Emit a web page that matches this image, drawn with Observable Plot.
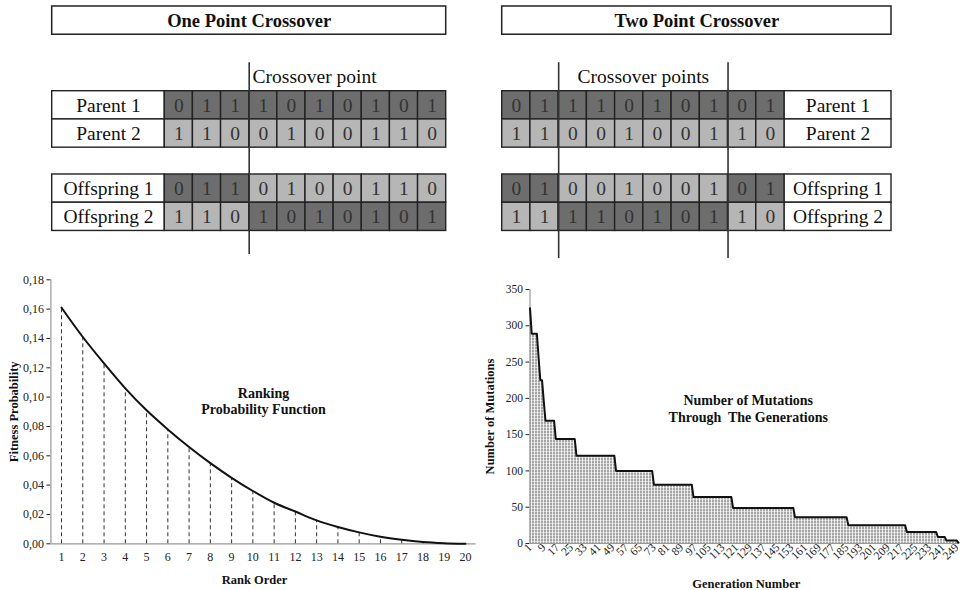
<!DOCTYPE html>
<html>
<head>
<meta charset="utf-8">
<script src="https://cdn.jsdelivr.net/npm/d3@7"></script>
<script src="https://cdn.jsdelivr.net/npm/@observablehq/plot@0.6"></script>
<style>
  html, body { margin: 0; padding: 0; background: #fff; }
  #wrap { position: relative; width: 961px; height: 590px; overflow: hidden; background: #fff; }
  #wrap > svg { position: absolute; }
</style>
</head>
<body>
<div id="wrap"></div>
<script>
// ---------- Crossover diagrams ----------
const rowNames = ["Parent 1", "Parent 2", "Offspring 1", "Offspring 2"];

const oneTitle = "One Point Crossover";
const oneBits  = ["0111010101", "1100100110", "0110100110", "1101010101"];
const oneShade = ["DDDDDDDDDD", "LLLLLLLLLL", "DDDLLLLLLL", "LLLDDDDDDD"];
const oneCuts  = [3];
const oneCutLabel = "Crossover point";

const twoTitle = "Two Point Crossover";
const twoBits  = ["0111010101", "1100100110", "0100100101", "1111010110"];
const twoShade = ["DDDDDDDDDD", "LLLLLLLLLL", "DDLLLLLLDD", "LLDDDDDDLL"];
const twoCuts  = [2, 8];
const twoCutLabel = "Crossover points";

// ---------- Ranking probability function ----------
const ranks = [1, 2, 3, 4, 5, 6, 7, 8, 9, 10, 11, 12, 13, 14, 15, 16, 17, 18, 19, 20];
const fitness = [0.161, 0.141, 0.123, 0.106, 0.091, 0.078, 0.066, 0.055, 0.045, 0.036,
                 0.028, 0.022, 0.016, 0.0115, 0.0078, 0.0048, 0.0027, 0.0012, 0.0004, 0];
const fitnessTicks = [0, 0.02, 0.04, 0.06, 0.08, 0.10, 0.12, 0.14, 0.16, 0.18];

// ---------- Mutations through generations ----------
const stepStart = [1, 2, 6, 7, 9, 10, 16, 28, 51, 73, 96, 119, 155, 186, 220, 238, 243, 250];
const stepValue = [324, 289, 256, 225, 196, 169, 144, 121, 100, 81, 64, 49, 36, 25, 16, 9, 4, 1];
const lastGeneration = 250;
const genTicks = [1, 9, 17, 25, 33, 41, 49, 57, 65, 73, 81, 89, 97, 105, 113, 121, 129, 137, 145,
                  153, 161, 169, 177, 185, 193, 201, 209, 217, 225, 233, 241, 249];
const mutationTicks = [0, 50, 100, 150, 200, 250, 300, 350];

const SERIF = "'Liberation Serif', 'Times New Roman', serif";
const DARK = "#6d6d6d", LIGHT = "#b6b6b6", INK = "#222";

const wrap = document.getElementById("wrap");
function place(svg, left, top) {
  svg.style.left = left + "px";
  svg.style.top = top + "px";
  wrap.appendChild(svg);
}

function diagram(cfg) {
  const rowGap = 0.95;
  const pos = r => r + (r >= 2 ? rowGap : 0);
  const cells = [];
  cfg.bits.forEach((row, r) => [...row].forEach((b, c) => cells.push({r, c, b, s: cfg.shade[r][c]})));
  const rows = rowNames.map((name, r) => ({r, name}));
  return Plot.plot({
    width: cfg.width, height: 262, margin: 0,
    style: {fontFamily: SERIF, background: "white", color: INK},
    x: {domain: cfg.xDomain, range: cfg.xRange, axis: null},
    y: {domain: [-3, 0], range: [6, 90.7], axis: null},
    color: {type: "identity"},
    marks: [
      Plot.rect([cfg.title], {x1: () => cfg.boxX1, x2: () => cfg.boxX2, y1: () => -3, y2: () => -2,
        fill: "white", stroke: INK, strokeWidth: 1.5}),
      Plot.text([cfg.title], {x: () => (cfg.boxX1 + cfg.boxX2) / 2, y: () => -2.5, text: d => d,
        fontWeight: "bold", fontSize: 18.5, fill: "#111"}),
      Plot.rect(rows, {x1: () => cfg.labX1, x2: () => cfg.labX2, y1: d => pos(d.r), y2: d => pos(d.r) + 1,
        fill: "white", stroke: INK, strokeWidth: 1.4}),
      Plot.text(rows, {x: () => (cfg.labX1 + cfg.labX2) / 2, y: d => pos(d.r) + 0.5, text: "name",
        fontSize: 19.5, fill: "#111"}),
      Plot.rect(cells, {x1: d => d.c, x2: d => d.c + 1, y1: d => pos(d.r), y2: d => pos(d.r) + 1,
        fill: d => d.s === "D" ? DARK : LIGHT, stroke: INK, strokeWidth: 1.4}),
      Plot.text(cells, {x: d => d.c + 0.5, y: d => pos(d.r) + 0.5, text: "b", fontSize: 19.5, fill: "#333"}),
      Plot.ruleX(cfg.cuts, {x: d => d, y1: () => -1.01, y2: () => cfg.lineY2, stroke: "#333", strokeWidth: 1.6}),
      Plot.text([cfg.cutLabel], {x: () => cfg.cutLabelX, y: () => -0.5, text: d => d,
        textAnchor: cfg.cutLabelAnchor, fontSize: 19.5, fill: "#111"})
    ]
  });
}

place(diagram({
  width: 480, title: oneTitle, bits: oneBits, shade: oneShade, cuts: oneCuts, cutLabel: oneCutLabel,
  xDomain: [-4, 10], xRange: [51.7, 445.7], boxX1: -4, boxX2: 10, labX1: -4, labX2: 0,
  lineY2: 5.78, cutLabelX: 3.12, cutLabelAnchor: "start"
}), 0, 0);

place(diagram({
  width: 481, title: twoTitle, bits: twoBits, shade: twoShade, cuts: twoCuts, cutLabel: twoCutLabel,
  xDomain: [0, 13.79], xRange: [21.7, 411], boxX1: 0, boxX2: 13.79, labX1: 10, labX2: 13.79,
  lineY2: 5.93, cutLabelX: 5, cutLabelAnchor: "middle"
}), 480, 0);

// ---------- Bottom left chart ----------
const rankData = ranks.map((r, i) => ({rank: r, p: fitness[i]}));
const comma2 = d => d3.format(".2f")(d).replace(".", ",");

place(Plot.plot({
  width: 480, height: 328, marginTop: 17.3, marginBottom: 46.7, marginLeft: 50.4, marginRight: 4.4,
  style: {fontFamily: SERIF, fontSize: "12px", background: "white", color: INK},
  x: {domain: [0.5, 20.5], ticks: ranks, tickFormat: d => String(d), tickSize: 0, tickPadding: 9, label: null},
  y: {domain: [0, 0.18], ticks: fitnessTicks, tickFormat: comma2, tickSize: 4, tickPadding: 3, label: null},
  marks: [
    Plot.ruleY([0], {x1: 0.5, x2: 20.5, stroke: "#999", strokeWidth: 1.2}),
    Plot.ruleX([0.5], {y1: 0, y2: 0.18, stroke: "#999", strokeWidth: 1.2}),
    Plot.ruleX(rankData.filter(d => d.p > 0.0008), {x: "rank", y1: 0, y2: "p", stroke: "#333",
      strokeWidth: 1, strokeDasharray: "4,3"}),
    Plot.line(rankData, {x: "rank", y: "p", curve: "monotone-x", stroke: "#111", strokeWidth: 2}),
    Plot.text(["Ranking\nProbability Function"], {frameAnchor: "top", dy: 121, lineAnchor: "middle",
      text: d => d, fontWeight: "bold", fontSize: 14, lineHeight: 1.15, fill: "#111"}),
    Plot.text(["Rank Order"], {frameAnchor: "bottom", dx: -9, dy: 36, lineAnchor: "middle",
      text: d => d, fontWeight: "bold", fontSize: 12.5, fill: "#111"}),
    Plot.text(["Fitness Probability"], {frameAnchor: "left", dx: -37, rotate: -90, textAnchor: "middle",
      lineAnchor: "middle", text: d => d, fontWeight: "bold", fontSize: 12.5, fill: "#111"})
  ]
}), 0, 262);

// ---------- Bottom right chart ----------
const genData = d3.range(1, lastGeneration + 1).map(g => {
  let i = 0;
  while (i + 1 < stepStart.length && stepStart[i + 1] <= g) i++;
  return {gen: g, n: stepValue[i]};
});

const right = Plot.plot({
  width: 481, height: 328, marginTop: 27, marginBottom: 47, marginLeft: 49.5, marginRight: 3,
  style: {fontFamily: SERIF, fontSize: "11.5px", background: "white", color: INK},
  x: {domain: [1, lastGeneration], ticks: genTicks, tickFormat: d => String(d), tickSize: 0, tickPadding: 2,
      tickRotate: -45, label: null},
  y: {domain: [0, 350], ticks: mutationTicks, tickSize: 4, tickPadding: 3, label: null},
  marks: [
    Plot.areaY(genData, {x: "gen", y: "n", fill: "url(#gridfill)"}),
    Plot.ruleY([0], {x1: 1, x2: lastGeneration, stroke: "#999", strokeWidth: 1.2}),
    Plot.ruleX([1], {y1: 0, y2: 350, stroke: "#999", strokeWidth: 1.2}),
    Plot.lineY(genData, {x: "gen", y: "n", stroke: "#111", strokeWidth: 2}),
    Plot.text(["Number of Mutations\nThrough  The Generations"], {frameAnchor: "top", dx: 4, dy: 118.5,
      lineAnchor: "middle", text: d => d, fontWeight: "bold", fontSize: 14, lineHeight: 1.2, fill: "#111"}),
    Plot.text(["Generation Number"], {frameAnchor: "bottom", dx: 2, dy: 40, lineAnchor: "middle",
      text: d => d, fontWeight: "bold", fontSize: 12.5, fill: "#111"}),
    Plot.text(["Number of Mutations"], {frameAnchor: "left", dx: -40, rotate: -90, textAnchor: "middle",
      lineAnchor: "middle", text: d => d, fontWeight: "bold", fontSize: 12.5, fill: "#111"})
  ]
});
right.insertAdjacentHTML("afterbegin",
  '<defs><pattern id="gridfill" width="3" height="3" patternUnits="userSpaceOnUse">' +
  '<rect width="3" height="3" fill="#a4a4a4"/>' +
  '<path d="M0.5 0V3" stroke="#ffffff" stroke-width="1" opacity="0.8"/>' +
  '<path d="M0 0.5H3" stroke="#ffffff" stroke-width="1" opacity="0.5"/></pattern></defs>');
place(right, 480, 262);
</script>
</body>
</html>
